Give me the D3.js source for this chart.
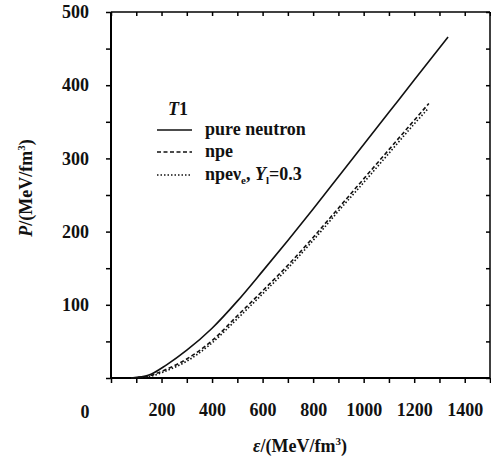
<!DOCTYPE html>
<html>
<head>
<meta charset="utf-8">
<script src="https://cdn.jsdelivr.net/npm/d3@7"></script>
<style>
  body { margin: 0; background: #fff; }
  svg { display: block; }
  text { font-family: "Liberation Serif", "Times New Roman", serif; fill: #111; }
</style>
</head>
<body>
<svg width="491" height="459"></svg>
<script>
// values (energy density eps, pressure P)
var pureEps = [80, 150, 220, 300, 400, 500, 600, 700, 800, 900, 1000, 1100, 1200, 1334];
var pureP   = [0, 4, 18, 38, 68, 105, 146, 188, 231, 275, 319, 363, 407, 466];

var npeEps = [80, 150, 220, 300, 400, 500, 600, 700, 800, 900, 1000, 1100, 1200, 1258];
var npeP   = [0, 3, 12, 26, 51, 85, 119, 154, 192, 232, 272, 312, 352, 375];

var nueEps = [80, 150, 220, 300, 400, 500, 600, 700, 800, 900, 1000, 1100, 1200, 1255];
var nueP   = [0, 2, 10, 23, 48, 81, 115, 150, 188, 228, 267, 307, 347, 368];

var xTickLabels = [200, 400, 600, 800, 1000, 1200, 1400];
var yTickLabels = [100, 200, 300, 400, 500];

var svg = d3.select("svg");

var x = d3.scaleLinear().domain([0, 1500]).range([111, 490]);
var y = d3.scaleLinear().domain([0, 500]).range([378, 12]);

var xMinor = d3.range(0, 1501, 100);
var yMinor = d3.range(0, 501, 50);

// bottom axis
svg.append("g")
    .attr("transform", "translate(0,378)")
    .call(d3.axisBottom(x).tickValues(xMinor).tickSize(5).tickPadding(20)
        .tickFormat(function(d) { return xTickLabels.indexOf(d) >= 0 ? d : ""; }))
    .call(function(g) {
      g.select(".domain").attr("stroke-width", 2).attr("d", "M111,0H490");
      g.selectAll(".tick line").attr("stroke-width", 1.5);
      g.selectAll("text").style("font-size", "18px").style("font-weight", "bold");
    });

// left axis
svg.append("g")
    .attr("transform", "translate(111,0)")
    .call(d3.axisLeft(y).tickValues(yMinor).tickSize(5).tickPadding(17)
        .tickFormat(function(d) { return yTickLabels.indexOf(d) >= 0 ? d : ""; }))
    .call(function(g) {
      g.select(".domain").attr("stroke-width", 2).attr("d", "M0,378V12");
      g.selectAll(".tick line").attr("stroke-width", 1.5);
      g.selectAll("text").style("font-size", "18px").style("font-weight", "bold");
    });

// top axis, ticks inward
svg.append("g")
    .attr("transform", "translate(0,12)")
    .call(d3.axisBottom(x).tickValues(xMinor).tickSize(4).tickFormat(""))
    .call(function(g) {
      g.select(".domain").attr("stroke-width", 1.5).attr("d", "M111,0H490");
      g.selectAll(".tick line").attr("stroke-width", 1.5);
    });

// right axis, ticks inward
svg.append("g")
    .attr("transform", "translate(490,0)")
    .call(d3.axisLeft(y).tickValues(yMinor).tickSize(4).tickFormat(""))
    .call(function(g) {
      g.select(".domain").attr("stroke-width", 1.5).attr("d", "M0,378V12");
      g.selectAll(".tick line").attr("stroke-width", 1.5);
    });

// corner zero
svg.append("text")
    .attr("x", 85).attr("y", 418)
    .attr("text-anchor", "middle")
    .style("font-size", "18px").style("font-weight", "bold")
    .text("0");

// axis titles
var xt = svg.append("text")
    .attr("x", 300).attr("y", 452)
    .attr("text-anchor", "middle")
    .style("font-size", "18px").style("font-weight", "bold");
xt.append("tspan").style("font-style", "italic").text("ε");
xt.append("tspan").text("/(MeV/fm");
xt.append("tspan").attr("dy", -7).style("font-size", "11px").text("3");
xt.append("tspan").attr("dy", 7).text(")");

var yt = svg.append("text")
    .attr("transform", "translate(32,188) rotate(-90)")
    .attr("text-anchor", "middle")
    .style("font-size", "18px").style("font-weight", "bold");
yt.append("tspan").style("font-style", "italic").text("P");
yt.append("tspan").text("/(MeV/fm");
yt.append("tspan").attr("dy", -7).style("font-size", "11px").text("3");
yt.append("tspan").attr("dy", 7).text(")");

// curves
var line = d3.line()
    .x(function(d) { return x(d[0]); })
    .y(function(d) { return y(d[1]); })
    .curve(d3.curveMonotoneX);

var series = [
  {eps: pureEps, p: pureP, dash: null},
  {eps: npeEps, p: npeP, dash: "4,2.5"},
  {eps: nueEps, p: nueP, dash: "1.5,2"}
];

series.forEach(function(s) {
  svg.append("path")
      .datum(d3.zip(s.eps, s.p))
      .attr("fill", "none")
      .attr("stroke", "#111")
      .attr("stroke-width", 1.6)
      .attr("stroke-dasharray", s.dash)
      .attr("d", line);
});

// legend
svg.append("text")
    .attr("x", 168).attr("y", 115)
    .style("font-size", "18px").style("font-weight", "bold")
    .call(function(t) {
      t.append("tspan").style("font-style", "italic").text("T");
      t.append("tspan").text("1");
    });

var legendRows = [
  {dash: null, y: 130},
  {dash: "4,2.5", y: 152},
  {dash: "1.5,2", y: 175}
];
legendRows.forEach(function(r) {
  svg.append("line")
      .attr("x1", 157).attr("x2", 192)
      .attr("y1", r.y).attr("y2", r.y)
      .attr("stroke", "#111").attr("stroke-width", 1.6)
      .attr("stroke-dasharray", r.dash);
});

svg.append("text").attr("x", 205).attr("y", 135)
    .style("font-size", "18px").style("font-weight", "bold")
    .text("pure neutron");
svg.append("text").attr("x", 205).attr("y", 157)
    .style("font-size", "18px").style("font-weight", "bold")
    .text("npe");
svg.append("text").attr("x", 205).attr("y", 180)
    .style("font-size", "18px").style("font-weight", "bold")
    .call(function(t) {
      t.append("tspan").text("npe\u03bd");
      t.append("tspan").attr("dy", 4).style("font-size", "11px").text("e");
      t.append("tspan").attr("dy", -4).text(", ");
      t.append("tspan").style("font-style", "italic").text("Y");
      t.append("tspan").attr("dy", 4).style("font-size", "11px").text("l");
      t.append("tspan").attr("dy", -4).text("=0.3");
    });
</script>
</body>
</html>
